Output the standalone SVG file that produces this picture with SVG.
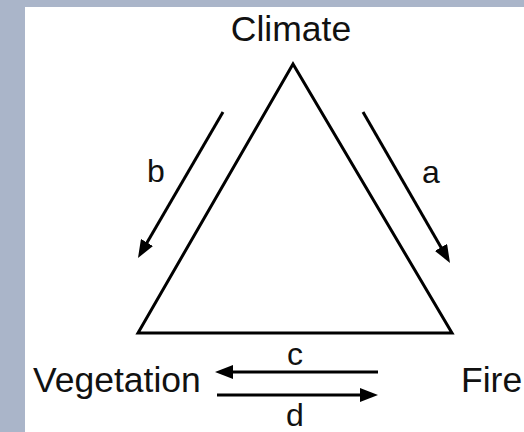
<svg xmlns="http://www.w3.org/2000/svg" width="524" height="432" viewBox="0 0 524 432">
<style>
text{font-family:"Liberation Sans",Arial,sans-serif;fill:#111;}
.lbl{font-size:35.5px;}
.let{font-size:32px;text-anchor:middle;}
.arr{stroke:#000;stroke-width:3;fill:none;marker-end:url(#ah);}
</style>
<defs>
<marker id="ah" markerUnits="userSpaceOnUse" markerWidth="18" markerHeight="14" viewBox="0 0 18 14" refX="8" refY="7" orient="auto">
<path d="M0,0 L18,7 L0,14 z" fill="#000"/>
</marker>
</defs>
<rect x="0" y="0" width="524" height="432" fill="#AAB5C9"/>
<rect x="25" y="7" width="499" height="425" fill="#fff"/>
<g id="triangle">
<polygon points="293,64 138,333 452,333" fill="none" stroke="#000" stroke-width="3" stroke-linejoin="miter"/>
</g>
<g id="climate"><text class="lbl" x="291" y="41" text-anchor="middle">Climate</text></g>
<g id="vegetation"><text class="lbl" x="33" y="392">Vegetation</text></g>
<g id="fire"><text class="lbl" x="461" y="392">Fire</text></g>
<g id="connectors">
<line class="arr" x1="223" y1="112" x2="143" y2="249.4"/>
<line class="arr" x1="363" y1="112" x2="445" y2="254.3"/>
<line class="arr" x1="378" y1="372" x2="225" y2="372"/>
<line class="arr" x1="217" y1="395" x2="368" y2="395"/>
<text class="let" x="156" y="182">b</text>
<text class="let" x="431" y="183">a</text>
<text class="let" x="295" y="365">c</text>
<text class="let" x="295" y="426">d</text>
</g>
</svg>
